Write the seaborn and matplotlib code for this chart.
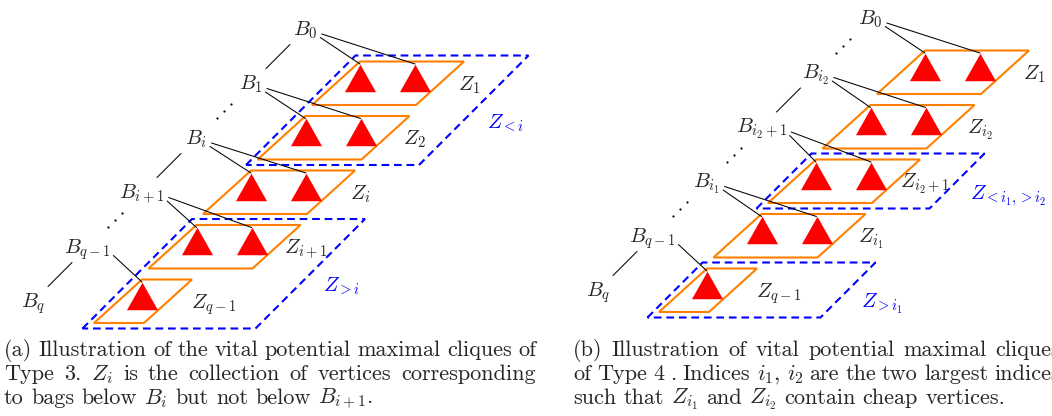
import matplotlib
matplotlib.use("Agg")
import matplotlib.pyplot as plt
import seaborn as sns
import pandas as pd
from matplotlib.patches import Polygon

sns.set_theme(style="white")
plt.rcParams["mathtext.fontset"] = "cm"
plt.rcParams["font.family"] = ["cmr10", "DejaVu Sans"]
plt.rcParams["axes.formatter.use_mathtext"] = True

# panel (a): bags, zones, number of cheap vertices per zone, what sits between bags
bags_a = ["$B_0$", "$B_1$", "$B_i$", "$B_{i+1}$", "$B_{q-1}$", "$B_q$"]
zones_a = ["$Z_1$", "$Z_2$", "$Z_i$", "$Z_{i+1}$", "$Z_{q-1}$"]
cheap_a = [2, 2, 2, 2, 1]
gaps_a = ["line", "dots", "line", "dots", "line"]
groups_a = [("$Z_{<i}$", 0, 1), ("$Z_{>i}$", 3, 4)]
caption_a = ["(a) Illustration of the vital potential maximal cliques of",
             "Type 3. $Z_i$ is the collection of vertices corresponding",
             "to bags below $B_i$ but not below $B_{i+1}$."]

# panel (b)
bags_b = ["$B_0$", "$B_{i_2}$", "$B_{i_2+1}$", "$B_{i_1}$", "$B_{q-1}$", "$B_q$"]
zones_b = ["$Z_1$", "$Z_{i_2}$", "$Z_{i_2+1}$", "$Z_{i_1}$", "$Z_{q-1}$"]
cheap_b = [2, 2, 2, 2, 1]
gaps_b = ["dots", "line", "dots", "dots", "line"]
groups_b = [("$Z_{<i_1,>i_2}$", 2, 2), ("$Z_{>i_1}$", 4, 4)]
caption_b = ["(b) Illustration of vital potential maximal cliques",
             "of Type 4 . Indices $i_1,\\,i_2$ are the two largest indices",
             "such that $Z_{i_1}$ and $Z_{i_2}$ contain cheap vertices."]

ORANGE = "#ff8000"
BLUE = "#0000ff"
RED = "#ff0000"
STEP = (-54.5, 54.5)
SKEW, H = 48, 43.5
LABEL_FS = 15
CAP_FS = 16

fig = plt.figure(figsize=(10.52, 4.16), dpi=100)
ax = fig.add_axes([0, 0, 1, 1])
ax.set_xlim(0, 1052)
ax.set_ylim(416, 0)
ax.axis("off")
renderer = fig.canvas.get_renderer()


def zone_width(n):
    return 104 if n == 2 else 50


def bottom_left(origin, k):
    return origin[0] + STEP[0] * k, origin[1] + STEP[1] * k


def top_left(origin, k):
    x, y = bottom_left(origin, k)
    return x + SKEW, y - H


def draw_panel(origin, bags, zones, cheap, gaps, groups):
    # dashed groups of zones
    for label, r0, r1 in groups:
        bx, by = bottom_left(origin, r1)
        tx, ty = top_left(origin, r0)
        bx, by, tx, ty = bx - 11.5, by + 5.5, tx - 4.5, ty - 6
        w = 173
        ax.add_patch(Polygon([(bx, by), (tx, ty), (tx + w, ty), (bx + w, by)],
                             closed=True, fill=False, ec=BLUE, lw=1.5,
                             ls=(0, (3.7, 2.3)), zorder=1))
        mx, my = (tx + w + bx + w) / 2, (ty + by) / 2
        ax.text(mx + 13, my + 18, label, color=BLUE, fontsize=LABEL_FS,
                ha="left", va="baseline")

    # zones with their cheap vertices
    apexes = []
    for k, (zl, n) in enumerate(zip(zones, cheap)):
        bx, by = bottom_left(origin, k)
        tx, ty = top_left(origin, k)
        w = zone_width(n)
        ax.add_patch(Polygon([(bx, by), (tx, ty), (tx + w, ty), (bx + w, by)],
                             closed=True, fill=False, ec=ORANGE, lw=1.5, zorder=2))
        pts = [(tx + 55 * j, ty + 2.5) for j in range(n)]
        apexes.append(pts)
        tri = pd.DataFrame({"x": [p[0] for p in pts], "y": [p[1] + 13.75 for p in pts]})
        sns.scatterplot(data=tri, x="x", y="y", ax=ax, color=RED, s=500,
                        marker=[(-1.13, -1), (1.13, -1), (0, 1)],
                        linewidth=0, zorder=3, legend=False)
        mx, my = (tx + w + bx + w) / 2, (ty + by) / 2
        ax.text(mx + (29 if n == 2 else 46), my + 7, zl, fontsize=LABEL_FS,
                ha="center", va="baseline")

    # bags
    pos = []
    for k, bl in enumerate(bags):
        tx, ty = top_left(origin, k)
        cx, cy = tx - 54.5, ty - 26.5
        pos.append((cx, cy))
        t = ax.text(cx, cy, bl, fontsize=LABEL_FS, ha="center", va="baseline")
        if k < len(apexes):
            x1 = t.get_window_extent(renderer).x1
            starts = [(x1 + 2.5, cy + 2.5), (x1 + 4, cy - 1)]
            for (sx, sy), (axp, ayp) in zip(starts, apexes[k]):
                ax.plot([sx, axp], [sy, ayp], color="black", lw=0.75, zorder=4)

    # links between consecutive bags
    for k, g in enumerate(gaps):
        cx, cy = pos[k][0] - 27.5, pos[k][1] + 21.5
        if g == "line":
            ax.plot([cx + 12, cx - 12], [cy - 12, cy + 12], color="black", lw=0.75)
        else:
            ax.scatter([cx + 7, cx, cx - 7], [cy - 7, cy, cy + 7], s=2.5,
                       color="black", linewidth=0)


def draw_caption(lines, x0, x1, base, justify):
    space = 0.333 * CAP_FS * 100 / 72
    for i, line in enumerate(lines):
        y = base + 24 * i
        words = line.split(" ")
        texts = [ax.text(0, y, w, fontsize=CAP_FS, ha="left", va="baseline") for w in words]
        widths = [t.get_window_extent(renderer).width for t in texts]
        gap = space
        if justify[i] and len(words) > 1:
            gap = (x1 - x0 - sum(widths)) / (len(words) - 1)
        x = x0
        for t, w in zip(texts, widths):
            t.set_x(x)
            x += w + gap


draw_panel((312, 105), bags_a, zones_a, cheap_a, gaps_a, groups_a)
draw_panel((877, 94), bags_b, zones_b, cheap_b, gaps_b, groups_b)
draw_caption(caption_a, 4, 536, 356, [True, True, False])
draw_caption(caption_b, 573, 1060, 356, [True, True, False])

fig.savefig("out.png", dpi=100, facecolor="white")
